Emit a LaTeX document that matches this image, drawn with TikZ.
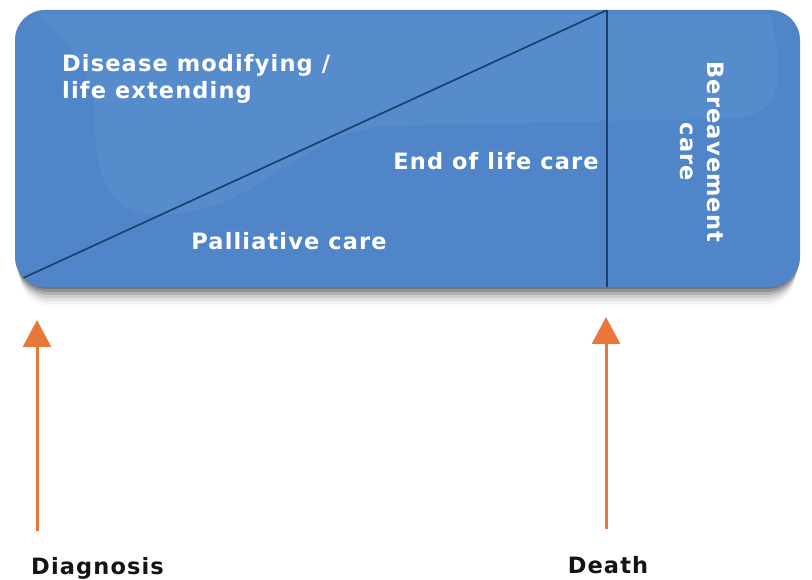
\documentclass[tikz,border=0pt]{standalone}
\usepackage{fontspec}
\setmainfont{DejaVu Sans}
\newfontfamily\lblfont[LetterSpace=5]{DejaVu Sans}
\usetikzlibrary{arrows.meta}
\definecolor{boxblue}{RGB}{80,134,201}
\definecolor{glossblue}{RGB}{100,152,212}
\definecolor{lineblue}{RGB}{28,64,110}
\definecolor{arroworange}{RGB}{232,120,58}
\definecolor{labeldark}{RGB}{20,20,20}
\tikzset{
  intext/.style={text=white,font=\lblfont\bfseries\fontsize{22.5}{27}\selectfont,inner sep=0pt},
  outtext/.style={text=labeldark,font=\lblfont\bfseries\fontsize{22.5}{27}\selectfont,inner sep=0pt},
  marker/.style={draw=arroworange,line width=3pt,-{Triangle[length=27pt,width=28pt]}},
  divider/.style={draw=lineblue,line width=1.7pt}
}
\begin{document}
\begin{tikzpicture}[x=1pt,y=-1pt]
\useasboundingbox (0,0) rectangle (812,580);
% shadow
\foreach \k/\o in {20/0.02,17/0.04,14/0.06,11/0.09,8/0.13,5/0.18,2/0.22}{
  \fill[black,opacity=\o,rounded corners=32pt] (15+\k*0.25,10+\k) rectangle (800-\k*0.25,287+\k);
}
% main box
\fill[boxblue,rounded corners=30pt] (15,10) rectangle (800,287);
% gloss
\begin{scope}
\clip[rounded corners=30pt] (15,10) rectangle (800,287);
\fill[glossblue,opacity=0.3] (40,14) -- (770,14) .. controls (780,60) and (790,110) .. (740,118)
  -- (390,126) .. controls (300,130) and (270,205) .. (170,215)
  .. controls (110,220) and (95,180) .. (95,120) .. controls (95,60) and (60,40) .. (40,14) -- cycle;
\coordinate (tl) at (10,284);
\coordinate (top) at (607,10);
\coordinate (bot) at (607,287);
\path[divider] (tl) -- (top);
\path[divider] (top) -- (bot);
\end{scope}
% labels inside
\node[intext,anchor=west,align=left] (dis) at (62,79) {Disease modifying /\\life extending};
\node[intext,anchor=center] (eol) at (496,161) {End of life care};
\node[intext,anchor=center] (pal) at (289,241) {Palliative care};
\node[intext,anchor=center,rotate=-90,align=center] (ber) at (702,152) {Bereavement\\care};
% arrows
\node[outtext,anchor=west] (diag) at (31,568) {Diagnosis};
\node[outtext,anchor=center] (death) at (608,565) {Death};
\coordinate (dtail) at (37,531);
\coordinate (dtip) at (37,320);
\coordinate (ttail) at (606,529);
\coordinate (ttip) at (606,317);
\path[marker] (dtail) -- (dtip);
\path[marker] (ttail) -- (ttip);
\end{tikzpicture}
\end{document}
